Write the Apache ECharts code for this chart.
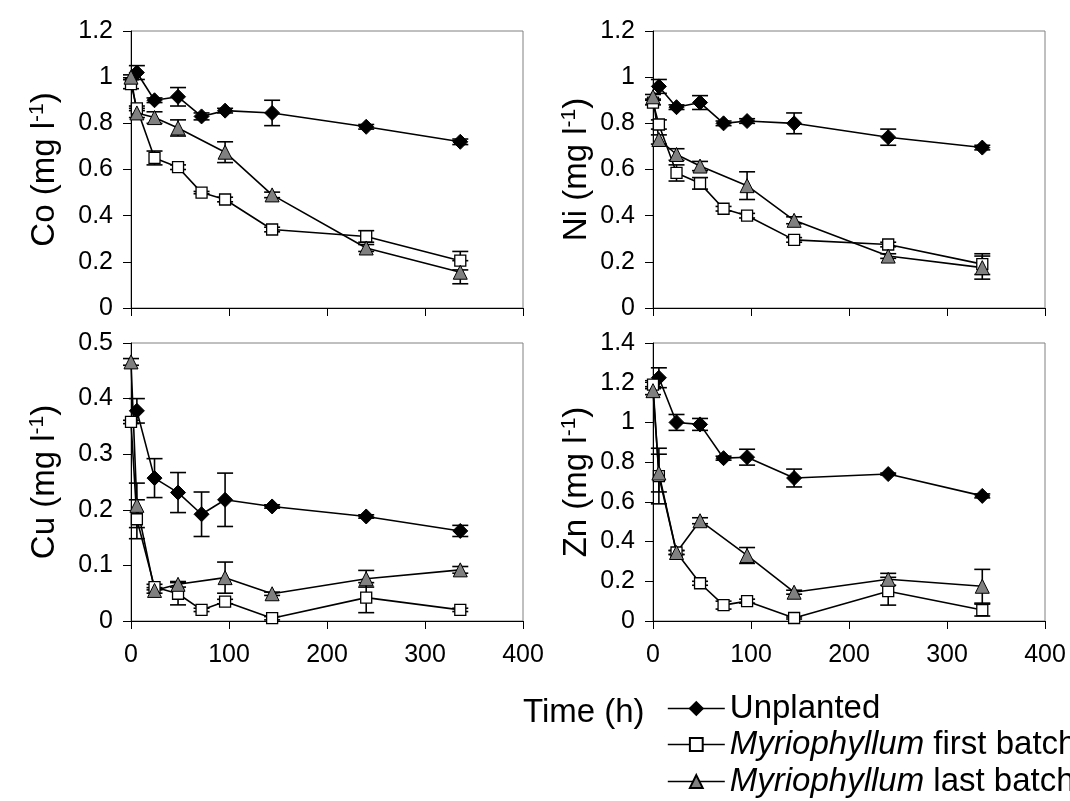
<!DOCTYPE html>
<html>
<head>
<meta charset="utf-8">
<script src="https://cdn.jsdelivr.net/npm/echarts@6/dist/echarts.min.js"></script>
<style>
html, body { margin: 0; padding: 0; background: #fff; }
#chart { width: 1070px; height: 801px; }
</style>
</head>
<body>
<div id="chart"></div>
<script>
const FONT = '"Liberation Sans", Arial, sans-serif';

// time points (h)
const timeFirst = [0, 6, 24, 48, 72, 96, 144, 240, 336];
const timeUnplanted = [6, 24, 48, 72, 96, 144, 240, 336];
const timeLast = [0, 6, 24, 48, 96, 144, 240, 336];

// panels
const metals = ['Co', 'Ni', 'Cu', 'Zn'];
const yMax = [1.2, 1.2, 0.5, 1.4];
const yStep = [0.2, 0.2, 0.1, 0.2];
const xMax = 400;
const xStep = 100;

const seriesNames = ['Unplanted', 'Myriophyllum first batch', 'Myriophyllum last batch'];

// Co
const coUnplanted = [1.02, 0.90, 0.915, 0.83, 0.855, 0.845, 0.785, 0.72];
const coUnplantedErr = [0.03, 0.01, 0.04, 0.015, 0.01, 0.055, 0.01, 0.012];
const coFirst = [0.97, 0.865, 0.65, 0.61, 0.50, 0.47, 0.34, 0.31, 0.205];
const coFirstErr = [0.02, 0.01, 0.03, 0.01, 0.005, 0.01, 0.01, 0.025, 0.04];
const coLast = [1.0, 0.845, 0.825, 0.78, 0.675, 0.49, 0.26, 0.155];
const coLastErr = [0.01, 0.02, 0.025, 0.035, 0.045, 0.012, 0.015, 0.05];

// Ni
const niUnplanted = [0.96, 0.87, 0.89, 0.80, 0.81, 0.80, 0.74, 0.695];
const niUnplantedErr = [0.03, 0.01, 0.03, 0.01, 0.01, 0.045, 0.035, 0.01];
const niFirst = [0.89, 0.795, 0.585, 0.54, 0.43, 0.40, 0.295, 0.275, 0.19];
const niFirstErr = [0.01, 0.02, 0.035, 0.025, 0.01, 0.01, 0.01, 0.01, 0.045];
const niLast = [0.915, 0.73, 0.665, 0.615, 0.53, 0.38, 0.225, 0.175];
const niLastErr = [0.01, 0.02, 0.025, 0.02, 0.06, 0.015, 0.01, 0.05];

// Cu
const cuUnplanted = [0.378, 0.257, 0.231, 0.192, 0.218, 0.206, 0.188, 0.162];
const cuUnplantedErr = [0.022, 0.035, 0.036, 0.04, 0.048, 0.003, 0.003, 0.01];
const cuFirst = [0.358, 0.183, 0.061, 0.049, 0.02, 0.035, 0.005, 0.042, 0.02];
const cuFirstErr = [0.003, 0.035, 0.005, 0.02, 0.003, 0.004, 0.003, 0.027, 0.003];
const cuLast = [0.466, 0.208, 0.055, 0.066, 0.078, 0.049, 0.076, 0.092];
const cuLastErr = [0.006, 0.04, 0.005, 0.005, 0.028, 0.003, 0.015, 0.006];

// Zn
const znUnplanted = [1.225, 1.0, 0.99, 0.82, 0.825, 0.72, 0.74, 0.63];
const znUnplantedErr = [0.05, 0.04, 0.03, 0.01, 0.04, 0.045, 0.005, 0.01];
const znFirst = [1.19, 0.73, 0.345, 0.19, 0.08, 0.10, 0.015, 0.15, 0.055];
const znFirstErr = [0.02, 0.14, 0.01, 0.01, 0.02, 0.01, 0.005, 0.07, 0.03];
const znLast = [1.16, 0.745, 0.345, 0.505, 0.33, 0.145, 0.21, 0.175];
const znLastErr = [0.02, 0.095, 0.01, 0.015, 0.04, 0.01, 0.03, 0.085];

const panelData = [
    [coUnplanted, coUnplantedErr, coFirst, coFirstErr, coLast, coLastErr],
    [niUnplanted, niUnplantedErr, niFirst, niFirstErr, niLast, niLastErr],
    [cuUnplanted, cuUnplantedErr, cuFirst, cuFirstErr, cuLast, cuLastErr],
    [znUnplanted, znUnplantedErr, znFirst, znFirstErr, znLast, znLastErr]
];

// 每个系列的标记样式
const markerStyles = [
    { symbol: 'diamond', symbolSize: 15, itemStyle: { color: '#000', borderColor: '#000', borderWidth: 1 } },
    { symbol: 'rect', symbolSize: 11, itemStyle: { color: '#fff', borderColor: '#000', borderWidth: 1.3 } },
    { symbol: 'triangle', symbolSize: 14, itemStyle: { color: '#808080', borderColor: '#000', borderWidth: 1 } }
];
const seriesTimes = [timeUnplanted, timeFirst, timeLast];

// grid positions (left, top)
const gridPos = [[131, 31], [653, 31], [131, 343], [653, 343]];
const nameGaps = [68, 58, 68, 58];

const grids = gridPos.map(p => ({
    left: p[0], top: p[1], width: 392, height: p[1] === 31 ? 277 : 278,
    show: true, borderColor: '#808080', borderWidth: 1, backgroundColor: 'transparent'
}));

const xAxes = gridPos.map((p, i) => ({
    type: 'value', gridIndex: i, min: 0, max: xMax, interval: xStep,
    axisLine: { onZero: false, lineStyle: { color: '#000', width: 1 } },
    axisTick: { show: true, inside: false, length: 8, lineStyle: { color: '#000' } },
    axisLabel: { show: i >= 2, margin: 22, color: '#000', fontSize: 25, fontFamily: FONT },
    splitLine: { show: false }
}));

const yAxes = metals.map((m, i) => ({
    type: 'value', gridIndex: i, min: 0, max: yMax[i], interval: yStep[i],
    name: m + ' (mg l{sup|-1})',
    nameLocation: 'middle', nameGap: nameGaps[i],
    nameTextStyle: {
        color: '#000', fontSize: 33, fontFamily: FONT, lineHeight: 36,
        rich: { sup: { fontSize: 21, fontFamily: FONT, color: '#000', verticalAlign: 'top', lineHeight: 22 } }
    },
    axisLine: { show: true, lineStyle: { color: '#000', width: 1 } },
    axisTick: { show: true, inside: false, length: 8, lineStyle: { color: '#000' } },
    axisLabel: { margin: 18, color: '#000', fontSize: 25, fontFamily: FONT },
    splitLine: { show: false }
}));

// 误差线
function errorSeries(idx, times, vals, errs) {
    return {
        type: 'custom', xAxisIndex: idx, yAxisIndex: idx, silent: true, animation: false,
        data: times.map((t, k) => [t, vals[k] - errs[k], vals[k] + errs[k]]),
        renderItem: function (params, api) {
            const lo = api.coord([api.value(0), api.value(1)]);
            const hi = api.coord([api.value(0), api.value(2)]);
            const w = 8;
            const st = { stroke: '#000', lineWidth: 1.6 };
            return {
                type: 'group',
                children: [
                    { type: 'line', shape: { x1: lo[0], y1: lo[1], x2: hi[0], y2: hi[1] }, style: st },
                    { type: 'line', shape: { x1: lo[0] - w, y1: lo[1], x2: lo[0] + w, y2: lo[1] }, style: st },
                    { type: 'line', shape: { x1: hi[0] - w, y1: hi[1], x2: hi[0] + w, y2: hi[1] }, style: st }
                ]
            };
        }
    };
}

const series = [];
panelData.forEach((d, i) => {
    for (let s = 0; s < 3; s++) {
        const times = seriesTimes[s];
        const vals = d[s * 2];
        const errs = d[s * 2 + 1];
        series.push(errorSeries(i, times, vals, errs));
        series.push(Object.assign({
            type: 'line', name: seriesNames[s], xAxisIndex: i, yAxisIndex: i,
            data: times.map((t, k) => [t, vals[k]]),
            lineStyle: { color: '#000', width: 1.6 },
            silent: true, animation: false, clip: false,
            emphasis: { disabled: true }
        }, markerStyles[s]));
    }
});

const legendTops = [692, 728, 765];
const legends = seriesNames.map((n, i) => ({
    data: [n], left: 667, top: legendTops[i], orient: 'vertical',
    itemWidth: 57, itemHeight: 16, padding: 0, selectedMode: false,
    lineStyle: { color: '#000', width: 1.6 },
    textStyle: {
        color: '#000', fontSize: 33, fontFamily: FONT,
        rich: { i: { fontStyle: 'italic', fontSize: 33, fontFamily: FONT, color: '#000' } }
    },
    formatter: name => name.startsWith('Myriophyllum') ? '{i|Myriophyllum} ' + name.slice(13) : name
}));

const chart = echarts.init(document.getElementById('chart'), null, { renderer: 'canvas' });
chart.setOption({
    backgroundColor: '#fff',
    animation: false,
    grid: grids,
    xAxis: xAxes,
    yAxis: yAxes,
    legend: legends,
    series: series,
    graphic: [{
        type: 'text', left: 523, top: 696,
        style: { text: 'Time (h)', fontSize: 33, fontFamily: FONT, fill: '#000' }
    }]
});
</script>
</body>
</html>
